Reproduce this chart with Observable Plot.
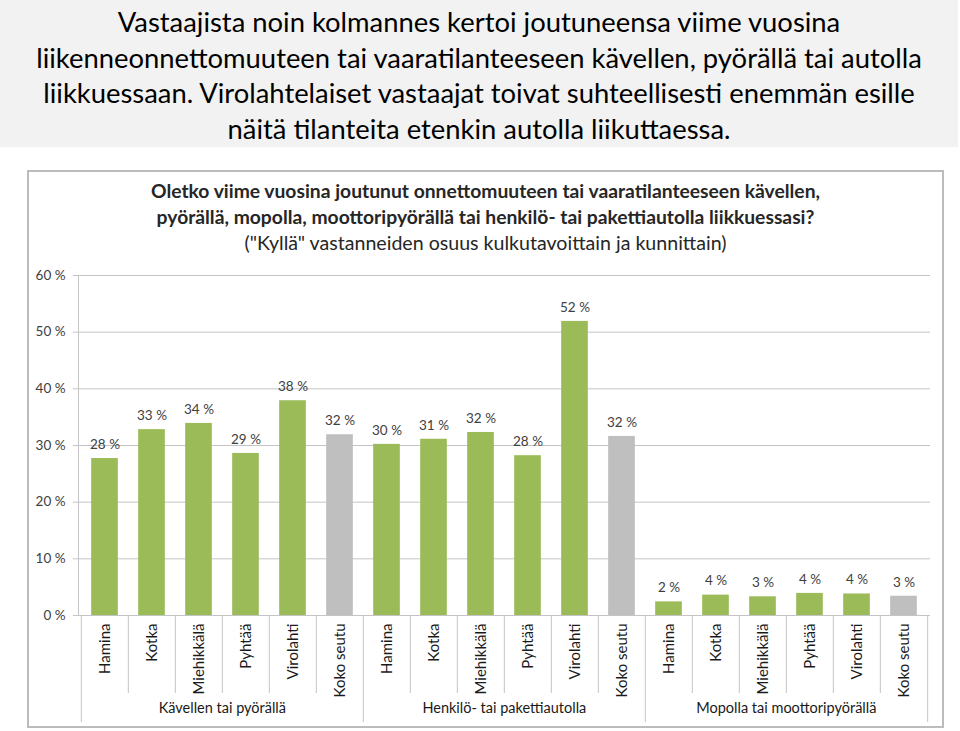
<!DOCTYPE html>
<html>
<head>
<meta charset="utf-8">
<script src="https://cdn.jsdelivr.net/npm/d3@7"></script>
<script src="https://cdn.jsdelivr.net/npm/@observablehq/plot@0.6"></script>
<style>
  html, body { margin: 0; padding: 0; background: #fff; width: 960px; height: 731px; overflow: hidden; }
  #headline {
    position: absolute; left: 0; top: 0; width: 958px; height: 147px; background: #f2f2f2;
    font-family: Lato, sans-serif; font-size: 27.4px; color: #000; text-align: center;
    line-height: 35.5px; padding-top: 4px; box-sizing: border-box; white-space: nowrap;
  }
  #box {
    position: absolute; left: 27px; top: 170px; width: 917px; height: 558px;
    border: 2px solid #bcbcbc; box-sizing: border-box;
  }
  #ctitle {
    position: absolute; left: 27px; top: 178px; width: 917px; text-align: center;
    font-family: Lato, sans-serif; color: #262626; font-size: 19.3px; line-height: 26px; white-space: nowrap;
  }
  #ctitle b { font-weight: 700; }
  #ctitle span { font-size: 19.6px; }
  #chart { position: absolute; left: 0; top: 250px; }
</style>
</head>
<body>
<div id="headline">Vastaajista noin kolmannes kertoi joutuneensa viime vuosina<br>liikenneonnettomuuteen tai vaaratilanteeseen kävellen, pyörällä tai autolla<br>liikkuessaan. Virolahtelaiset vastaajat toivat suhteellisesti enemmän esille<br>näitä tilanteita etenkin autolla liikuttaessa.</div>
<div id="box"></div>
<div id="ctitle"><b>Oletko viime vuosina joutunut onnettomuuteen tai vaaratilanteeseen kävellen,<br>pyörällä, mopolla, moottoripyörällä tai henkilö- tai pakettiautolla liikkuessasi?</b><br><span>("Kyllä" vastanneiden osuus kulkutavoittain ja kunnittain)</span></div>
<div id="chart"></div>
<script>
// ---- data ----
const groups = ["Kävellen tai pyörällä", "Henkilö- tai pakettiautolla", "Mopolla tai moottoripyörällä"];
const categories = ["Hamina", "Kotka", "Miehikkälä", "Pyhtää", "Virolahti", "Koko seutu"];
const walkBike = [27.7, 32.8, 33.9, 28.6, 37.9, 31.9];
const carVan = [30.2, 31.1, 32.3, 28.2, 51.9, 31.6];
const mopedMoto = [2.4, 3.6, 3.3, 3.9, 3.8, 3.4];
const yTicks = [0, 10, 20, 30, 40, 50, 60];

const seriesValues = [walkBike, carVan, mopedMoto];
const rows = [];
groups.forEach((g, gi) => categories.forEach((c, ci) => rows.push({
  key: gi + "|" + c, group: g, cat: c, gi, ci, value: seriesValues[gi][ci], total: c === "Koko seutu"
})));
const keys = rows.map(d => d.key);

const W = 960, H = 481, mL = 78, mR = 30, mT = 25, mB = 116;
const step = (W - mL - mR) / keys.length;
const plotH = H - mT - mB;

const shortSeps = rows.filter(d => d.ci !== 0);
const groupStarts = rows.filter(d => d.ci === 0);
const lastRow = rows.slice(-1);
const groupMids = rows.filter(d => d.ci === 3);

const chart = Plot.plot({
  width: W, height: H,
  marginLeft: mL, marginRight: mR, marginTop: mT, marginBottom: mB,
  style: { fontFamily: "Lato, sans-serif", fontSize: "13px", background: "transparent", overflow: "visible" },
  x: { domain: keys, padding: 0, axis: null },
  y: { domain: [0, 60], axis: null },
  marks: [
    Plot.gridY(yTicks, { stroke: "#c4c4c4", strokeOpacity: 1 }),
    Plot.axisY(yTicks, { tickSize: 5, tickPadding: 8, stroke: "#c4c4c4", fill: "#404040",
      tickFormat: d => d + " %", label: null, fontSize: 13.5 }),
    Plot.frame({ anchor: "left", stroke: "#c4c4c4" }),
    Plot.barY(rows, { x: "key", y: "value", fill: d => d.total ? "#bfbfbf" : "#9bbb59",
      insetLeft: (step - 27) / 2, insetRight: (step - 27) / 2 }),
    Plot.text(rows, { x: "key", y: "value", text: d => Math.round(d.value) + " %", dy: -14,
      fill: "#404040", fontSize: 13.5 }),
    Plot.ruleY([0], { stroke: "#c4c4c4" }),
    Plot.axisX({ tickSize: 0, tickRotate: -90, tickPadding: 8, label: null, fill: "#1a1a1a",
      tickFormat: d => d.split("|")[1], fontSize: 15 }),
    Plot.ruleX(shortSeps, { x: "key", dx: -step / 2, stroke: "#c4c4c4", insetTop: plotH, insetBottom: -78 }),
    Plot.ruleX(groupStarts, { x: "key", dx: -step / 2, stroke: "#c4c4c4", insetTop: plotH, insetBottom: -107 }),
    Plot.ruleX(lastRow, { x: "key", dx: step / 2, stroke: "#c4c4c4", insetTop: plotH, insetBottom: -107 }),
    Plot.text(groupMids, { x: "key", dx: -step / 2, frameAnchor: "bottom", dy: 97, text: "group",
      fill: "#1a1a1a", fontSize: 14.5 })
  ]
});
document.getElementById("chart").appendChild(chart);
</script>
</body>
</html>
